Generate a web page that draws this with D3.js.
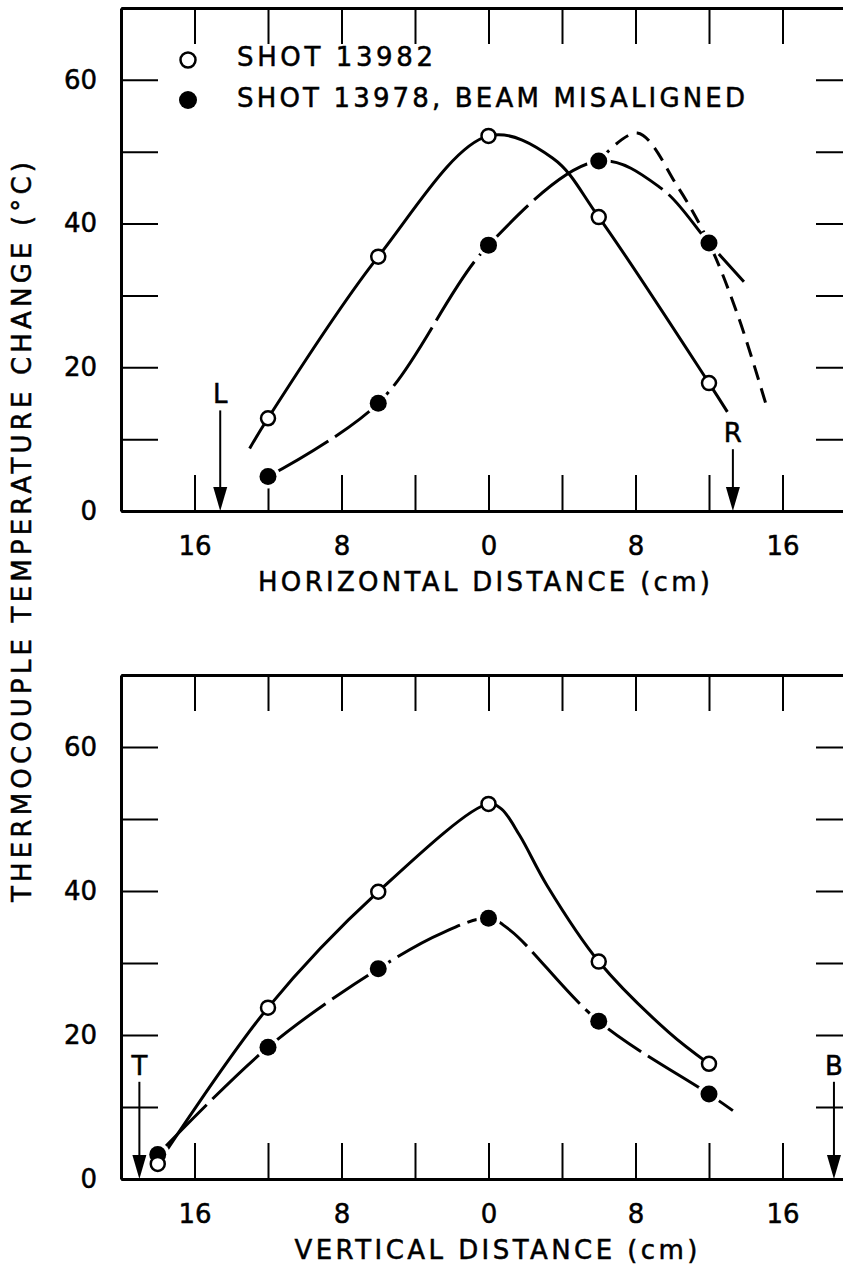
<!DOCTYPE html>
<html>
<head>
<meta charset="utf-8">
<script src="https://cdn.jsdelivr.net/npm/d3@7"></script>
<style>
  body { margin: 0; background: #fff; }
  svg text { font-family: "DejaVu Sans", sans-serif; fill: #000; stroke: #000; stroke-width: 0.5px; }
</style>
</head>
<body>
<div id="chart"></div>
<script>
// ---- data ----
var xTicks = [-16, -12, -8, -4, 0, 4, 8, 12, 16];
var xLabelTicks = [-16, -8, 0, 8, 16];
var yTicks = [0, 10, 20, 30, 40, 50, 60, 70];
var yLabelTicks = [0, 20, 40, 60];

var seriesNames = ["SHOT 13982", "SHOT 13978, BEAM MISALIGNED"];

// horizontal scan (top panel)
var hOpenPts = [[-12, 12.9], [-6, 35.4], [0, 52.2], [6, 40.9], [12, 17.8]];
var hFilledPts = [[-12, 4.8], [-6, 15.0], [0, 37.0], [6, 48.7], [12, 37.3]];
var hOpenCurve = [[-13, 8.7], [-12, 12.9], [-6, 35.4], [0, 52.2], [3.5, 49.1], [6, 40.9], [12, 17.8], [13, 13.8]];
var hFilledCurve = [[-12, 4.8], [-6, 15.0], [0, 37.0], [6, 48.7], [9.4, 44.9], [12, 37.3], [13.9, 31.9]];
var hFilledAlt = [[6, 48.7], [8.1, 52.6], [10.3, 45.1], [12, 37.3], [13.6, 27], [15.2, 14]];

// vertical scan (bottom panel)
var vOpenPts = [[-18, 2.1], [-12, 23.8], [-6, 39.9], [0, 52.1], [6, 30.2], [12, 16.0]];
var vFilledPts = [[-18, 3.4], [-12, 18.3], [-6, 29.2], [0, 36.2], [6, 21.9], [12, 11.8]];
var vOpenCurve = [[-18, 2.1], [-12, 23.8], [-6, 39.9], [0, 52.1], [0.7, 51.4], [1.7, 47.7], [3.2, 40.7], [6, 30.2], [9.8, 20.4], [12, 16.0]];
var vFilledCurve = [[-18, 3.4], [-12, 18.3], [-6, 29.2], [-2.5, 34.2], [0, 36.2], [1.2, 34.5], [6, 21.9], [12, 11.8], [13.3, 9.5]];

// edge markers (label, x in cm, arrow top in degrees)
var hEdges = [{label: "L", x: -14.6, top: 14}, {label: "R", x: 13.3, top: 8.6}];
var vEdges = [{label: "T", x: -19.0, top: 13.5}, {label: "B", x: 18.8, top: 13.5}];

var width = 843, height = 1271;

var svg = d3.select("#chart").append("svg")
    .attr("width", width)
    .attr("height", height);

var x = d3.scaleLinear().domain([-20, 20]).range([121, 856]);

var line = d3.line()
    .curve(d3.curveCatmullRom.alpha(0.5))
    .x(function(d) { return x(d[0]); });

function drawPanel(top, bottom, openCurve, filledCurve, altCurve, openPts, filledPts, edges, title, titleX, titleW) {
    var y = d3.scaleLinear().domain([0, 70]).range([bottom, top]);
    var g = svg.append("g");

    // frame ticks
    var bottomAxis = g.append("g")
        .attr("transform", "translate(0," + bottom + ")")
        .call(d3.axisBottom(x).tickValues(xTicks).tickSizeInner(-36).tickSizeOuter(0).tickPadding(26)
            .tickFormat(function(d) { return xLabelTicks.indexOf(d) >= 0 ? Math.abs(d) : ""; }));
    var topAxis = g.append("g")
        .attr("transform", "translate(0," + top + ")")
        .call(d3.axisTop(x).tickValues(xTicks).tickSizeInner(-36).tickSizeOuter(0).tickFormat(""));
    var leftAxis = g.append("g")
        .attr("transform", "translate(" + x(-20) + ",0)")
        .call(d3.axisLeft(y).tickValues(yTicks).tickSizeInner(-37).tickSizeOuter(0).tickPadding(24)
            .tickFormat(function(d) { return yLabelTicks.indexOf(d) >= 0 ? d : ""; }));
    var rightAxis = g.append("g")
        .attr("transform", "translate(" + x(20) + ",0)")
        .call(d3.axisRight(y).tickValues(yTicks.slice(1, 7)).tickSizeInner(-40).tickSizeOuter(0).tickFormat(""));

    [bottomAxis, topAxis, leftAxis, rightAxis].forEach(function(a) {
        a.select(".domain").attr("stroke", "#000").attr("stroke-width", 3);
        a.selectAll(".tick line").attr("stroke", "#000").attr("stroke-width", 2);
        a.selectAll(".tick text").style("font-size", "26px").attr("fill", "#000");
    });

    // axis title
    g.append("text")
        .attr("x", titleX)
        .attr("y", bottom + 80)
        .attr("text-anchor", "middle")
        .attr("textLength", titleW).attr("lengthAdjust", "spacing")
        .style("font-size", "26px")
        .text(title);

    line.y(function(d) { return y(d[1]); });

    g.append("path")
        .datum(openCurve)
        .attr("fill", "none")
        .attr("stroke", "#000")
        .attr("stroke-width", 3)
        .attr("d", line);

    g.append("path")
        .datum(filledCurve)
        .attr("fill", "none")
        .attr("stroke", "#000")
        .attr("stroke-width", 3)
        .attr("stroke-dasharray", "70 8")
        .attr("d", line);

    if (altCurve) {
        g.append("path")
            .datum(altCurve)
            .attr("fill", "none")
            .attr("stroke", "#000")
            .attr("stroke-width", 3)
            .attr("stroke-dasharray", "15 9")
            .attr("d", line);
    }

    // filled markers with a white gap round them
    g.selectAll(".halo").data(filledPts).enter().append("circle")
        .attr("cx", function(d) { return x(d[0]); })
        .attr("cy", function(d) { return y(d[1]); })
        .attr("r", 12)
        .attr("fill", "#fff");
    g.selectAll(".filled").data(filledPts).enter().append("circle")
        .attr("cx", function(d) { return x(d[0]); })
        .attr("cy", function(d) { return y(d[1]); })
        .attr("r", 8.5)
        .attr("fill", "#000");
    g.selectAll(".open").data(openPts).enter().append("circle")
        .attr("cx", function(d) { return x(d[0]); })
        .attr("cy", function(d) { return y(d[1]); })
        .attr("r", 7)
        .attr("fill", "#fff")
        .attr("stroke", "#000")
        .attr("stroke-width", 2.5);

    // edge arrows
    edges.forEach(function(e) {
        var ax = x(e.x);
        g.append("line")
            .attr("x1", ax).attr("x2", ax)
            .attr("y1", y(e.top)).attr("y2", y(0) - 20)
            .attr("stroke", "#000").attr("stroke-width", 2);
        g.append("path")
            .attr("d", "M" + (ax - 7) + "," + (y(0) - 24) + "L" + (ax + 7) + "," + (y(0) - 24) + "L" + ax + "," + y(0) + "Z")
            .attr("fill", "#000");
        g.append("text")
            .attr("x", ax)
            .attr("y", y(e.top) - 7)
            .attr("text-anchor", "middle")
            .style("font-size", "26px")
            .text(e.label);
    });
}

drawPanel(8, 511, hOpenCurve, hFilledCurve, hFilledAlt, hOpenPts, hFilledPts, hEdges, "HORIZONTAL DISTANCE (cm)", 484, 452);
drawPanel(675, 1179, vOpenCurve, vFilledCurve, null, vOpenPts, vFilledPts, vEdges, "VERTICAL DISTANCE (cm)", 496, 403);

// legend
var legend = svg.append("g").attr("transform", "translate(188,0)");
legend.append("circle").attr("cx", 0).attr("cy", 60).attr("r", 7.5)
    .attr("fill", "#fff").attr("stroke", "#000").attr("stroke-width", 2.5);
legend.append("circle").attr("cx", 0).attr("cy", 100).attr("r", 9).attr("fill", "#000");
legend.append("text").attr("x", 49).attr("y", 66)
    .attr("textLength", 196).attr("lengthAdjust", "spacing")
    .style("font-size", "26px").text(seriesNames[0]);
legend.append("text").attr("x", 49).attr("y", 107)
    .attr("textLength", 508).attr("lengthAdjust", "spacing")
    .style("font-size", "26px").text(seriesNames[1]);

// y axis title shared by both panels
svg.append("text")
    .attr("transform", "translate(31,532) rotate(-90)")
    .attr("text-anchor", "middle")
    .attr("textLength", 740).attr("lengthAdjust", "spacing")
    .style("font-size", "26px")
    .text("THERMOCOUPLE TEMPERATURE CHANGE (°C)");
</script>
</body>
</html>
